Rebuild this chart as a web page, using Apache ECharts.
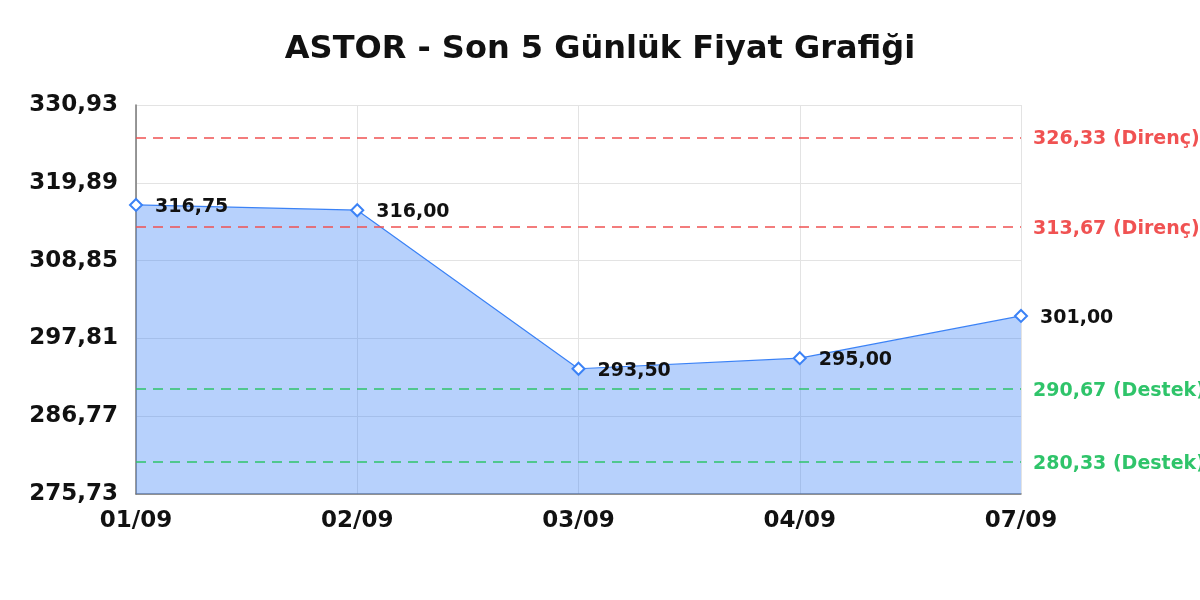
<!DOCTYPE html>
<html>
<head>
<meta charset="utf-8">
<script src="https://cdn.jsdelivr.net/npm/echarts@6/dist/echarts.min.js"></script>
<style>
  html, body { margin: 0; padding: 0; background: #fff; }
  #main { width: 1200px; height: 600px; }
</style>
</head>
<body>
<div id="main"></div>
<script>
// data
const days = ['01/09', '02/09', '03/09', '04/09', '07/09'];
const prices = [316.75, 316.00, 293.50, 295.00, 301.00];
const resistance = [326.33, 313.67];
const support = [290.67, 280.33];
const yMin = 275.73;
const yMax = 330.93;
const yStep = 11.04;

// turkish style decimals
function fmt(v) {
  return v.toFixed(2).replace('.', ',');
}

var myChart = echarts.init(document.getElementById('main'));

// reference lines for support / resistance
let levels = [];
resistance.forEach(function (v) {
  levels.push({
    yAxis: v,
    lineStyle: { color: '#f05252', type: [10, 7], width: 1.5 },
    label: { formatter: fmt(v) + ' (Direnç)', color: '#f05252' }
  });
});
support.forEach(function (v) {
  levels.push({
    yAxis: v,
    lineStyle: { color: '#2fc46a', type: [10, 7], width: 1.5 },
    label: { formatter: fmt(v) + ' (Destek)', color: '#2fc46a' }
  });
});

var option = {
  backgroundColor: '#fff',
  textStyle: { fontFamily: 'DejaVu Sans' },
  title: {
    text: 'ASTOR - Son 5 Günlük Fiyat Grafiği',
    left: 'center',
    top: 29,
    textStyle: { fontSize: 32, fontWeight: 'bold', color: '#111', fontFamily: 'DejaVu Sans' }
  },
  grid: { left: 136, right: 179, top: 105, bottom: 106 },
  xAxis: {
    type: 'category',
    data: days,
    boundaryGap: false,
    axisLine: { lineStyle: { color: '#777', width: 1.5 } },
    axisTick: { show: false },
    splitLine: { show: true, lineStyle: { color: '#e3e3e3' } },
    axisLabel: { fontSize: 23, fontWeight: 'bold', color: '#111', margin: 16 }
  },
  yAxis: {
    type: 'value',
    min: yMin,
    max: yMax,
    interval: yStep,
    axisLine: { show: true, lineStyle: { color: '#777', width: 1.5 } },
    axisTick: { show: false },
    splitLine: { lineStyle: { color: '#e3e3e3' } },
    axisLabel: { fontSize: 23, fontWeight: 'bold', color: '#111', margin: 18, formatter: fmt }
  },
  series: [{
    type: 'line',
    data: prices,
    symbol: 'emptyDiamond',
    symbolSize: 12,
    lineStyle: { color: '#3b82f6', width: 1.2 },
    itemStyle: { color: '#3b82f6', borderWidth: 2 },
    areaStyle: { color: 'rgba(59,130,246,0.37)', opacity: 1, origin: 'start' },
    label: {
      show: true,
      position: 'right',
      distance: 12,
      offset: [0, 2],
      fontSize: 19,
      fontWeight: 'bold',
      color: '#111',
      formatter: function (p) { return fmt(p.value); }
    },
    markLine: {
      silent: true,
      symbol: 'none',
      label: { position: 'end', distance: 12, offset: [0, 2], fontSize: 19, fontWeight: 'bold' },
      data: levels
    }
  }]
};

myChart.setOption(option);
</script>
</body>
</html>
